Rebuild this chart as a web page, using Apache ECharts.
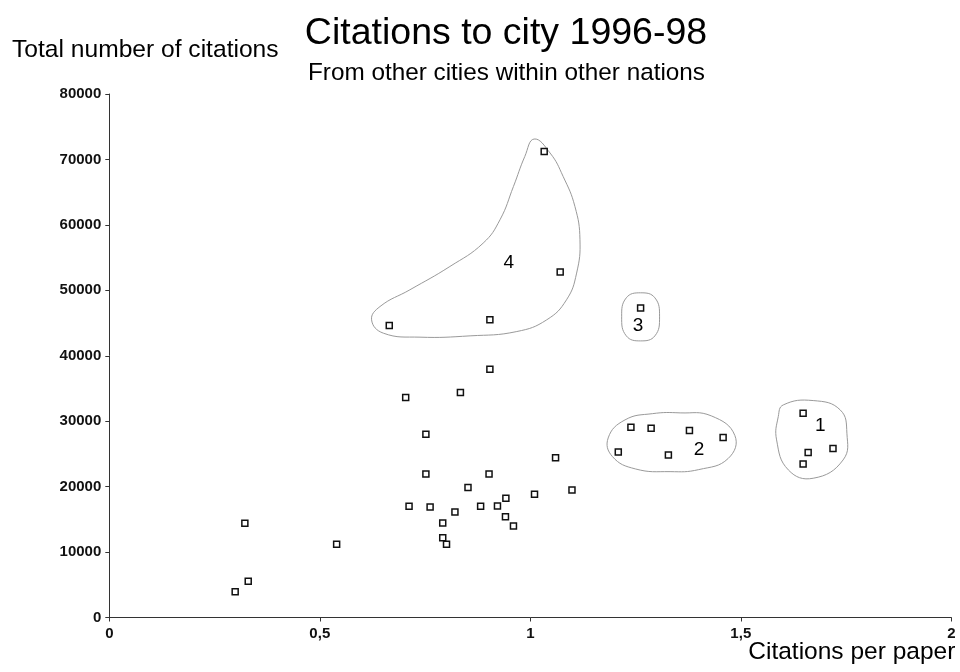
<!DOCTYPE html>
<html>
<head>
<meta charset="utf-8">
<script src="https://cdn.jsdelivr.net/npm/echarts@6/dist/echarts.min.js"></script>
<style>html,body{margin:0;padding:0;background:#fff;}#c{width:960px;height:672px;}</style>
</head>
<body>
<div id="c"></div>
<script>
// Citations per paper (x) and total number of citations (y) for each city
const citationsPerPaper = [
  0.904, 0.834, 0.704, 0.752, 1.060, 0.752, 0.902, 0.852, 0.942, 1.010,
  1.099, 0.712, 0.762, 0.882, 0.922, 0.821, 0.792, 0.941, 0.960, 0.792,
  0.801, 0.322, 0.540, 0.330, 0.299, 1.033, 1.071, 0.665, 0.904, 1.262,
  1.239, 1.287, 1.378, 1.458, 1.209, 1.328, 1.648, 1.660, 1.719, 1.648
];
const totalCitations = [
  37950, 34370, 33610, 28010, 24430, 21940, 21940, 19850, 18230, 18840,
  19490, 17000, 16900, 17000, 17050, 16130, 14450, 15410, 13990, 12200,
  11190, 14400, 11190, 5540, 3950, 71220, 52780, 44620, 45490, 47280,
  29080, 28930, 28560, 27490, 25310, 24850, 31220, 25200, 25810, 23470
];
const xTicks = [0, 0.5, 1, 1.5, 2];
const yTicks = [0, 10000, 20000, 30000, 40000, 50000, 60000, 70000, 80000];

// Cluster annotations (in data units)
const clusterNames = ['1', '2', '3', '4'];
const clusterLabelPos = [[1.689, 29280], [1.401, 25610], [1.256, 44570], [0.949, 54200]];
const cluster1Outline = [[1.601,32490],[1.672,33150],[1.736,31730],[1.752,28160],[1.743,24080],[1.672,21280],[1.613,22550],[1.585,27140],[1.589,30700]];
const cluster2Outline = [[1.185,27440],[1.225,30200],[1.290,31150],[1.356,31270],[1.430,30810],[1.486,27800],[1.470,24300],[1.400,22600],[1.332,22290],[1.250,22700],[1.195,24600]];
const cluster3Outline = [[1.262,49620],[1.296,48850],[1.307,45950],[1.296,43040],[1.262,42270],[1.228,43040],[1.217,45950],[1.228,48850]];
const cluster4Outline = [[1.009,73120],[1.047,70980],[1.078,67400],[1.106,62810],[1.118,57720],[1.110,52630],[1.086,48550],[1.039,45490],[0.968,43700],[0.857,43040],[0.738,42840],[0.651,43450],[0.623,45490],[0.643,47520],[0.714,50080],[0.809,53640],[0.888,57210],[0.928,60780],[0.960,65870],[0.987,70460]];

const outlines = [cluster1Outline, cluster2Outline, cluster3Outline, cluster4Outline];
const points = citationsPerPaper.map((x, i) => [x, totalCitations[i]]);

const chart = echarts.init(document.getElementById('c'), null, {renderer: 'canvas'});
const FONT = '"Liberation Sans", Arial, Helvetica, sans-serif';
chart.setOption({
  backgroundColor: '#ffffff',
  animation: false,
  title: [
    {text: 'Citations to city 1996-98', left: 501, top: 10, textAlign: 'center',
     textStyle: {fontFamily: FONT, fontSize: 37.5, fontWeight: 'normal', color: '#000'}},
    {text: 'From other cities within other nations', left: 501.5, top: 56, textAlign: 'center',
     textStyle: {fontFamily: FONT, fontSize: 24.3, fontWeight: 'normal', color: '#000'}}
  ],
  grid: {left: 109.3, right: 8.7, top: 94, bottom: 54.5, containLabel: false, outerBoundsMode: 'none'},
  xAxis: {
    type: 'value', min: xTicks[0], max: xTicks[xTicks.length - 1], interval: 0.5,
    name: 'Citations per paper', nameLocation: 'end', nameGap: 4, nameMoveOverlap: false,
    nameTextStyle: {fontFamily: FONT, fontSize: 24.5, color: '#000', align: 'right', verticalAlign: 'top', padding: [22, 0, 0, 0]},
    axisLine: {show: true, onZero: false, lineStyle: {color: '#333', width: 1}},
    axisTick: {show: true, inside: false, length: 4, lineStyle: {color: '#333'}},
    axisLabel: {fontFamily: FONT, fontSize: 15, fontWeight: 'bold', color: '#111', margin: 9,
      formatter: v => String(v).replace('.', ',')},
    splitLine: {show: false}
  },
  yAxis: {
    type: 'value', min: yTicks[0], max: yTicks[yTicks.length - 1], interval: 10000,
    name: 'Total number of citations', nameLocation: 'end', nameGap: 31,
    nameTextStyle: {fontFamily: FONT, fontSize: 24.6, color: '#000', align: 'center', verticalAlign: 'bottom', padding: [0, 0, 0, 72]},
    axisLine: {show: true, onZero: false, lineStyle: {color: '#333', width: 1}},
    axisTick: {show: true, inside: false, length: 4, lineStyle: {color: '#333'}},
    axisLabel: {fontFamily: FONT, fontSize: 15, fontWeight: 'bold', color: '#111', margin: 8,
      formatter: v => String(v)},
    splitLine: {show: false}
  },
  series: [
    {
      type: 'custom',
      name: 'Clusters',
      coordinateSystem: 'cartesian2d',
      silent: true,
      data: outlines.map((o, i) => [o[0][0], o[0][1], i]),
      encode: {x: 0, y: 1},
      renderItem: function (params, api) {
        const pts = outlines[params.dataIndex].map(p => api.coord(p));
        return {
          type: 'polygon',
          shape: {points: pts, smooth: 0.45},
          style: {fill: 'none', stroke: '#9a9a9a', lineWidth: 1}
        };
      },
      z: 1
    },
    {
      type: 'scatter',
      name: 'Cities',
      data: points,
      symbol: 'rect',
      symbolSize: 6,
      itemStyle: {color: '#ffffff', borderColor: '#111', borderWidth: 1.5, opacity: 1},
      z: 3
    },
    {
      type: 'scatter',
      name: 'Cluster labels',
      silent: true,
      data: clusterLabelPos.map((p, i) => ({value: p, name: clusterNames[i]})),
      symbolSize: 0,
      itemStyle: {opacity: 1},
      label: {show: true, position: 'inside', formatter: '{b}', fontFamily: FONT, fontSize: 19, color: '#000', opacity: 1},
      z: 4
    }
  ]
});
</script>
</body>
</html>
